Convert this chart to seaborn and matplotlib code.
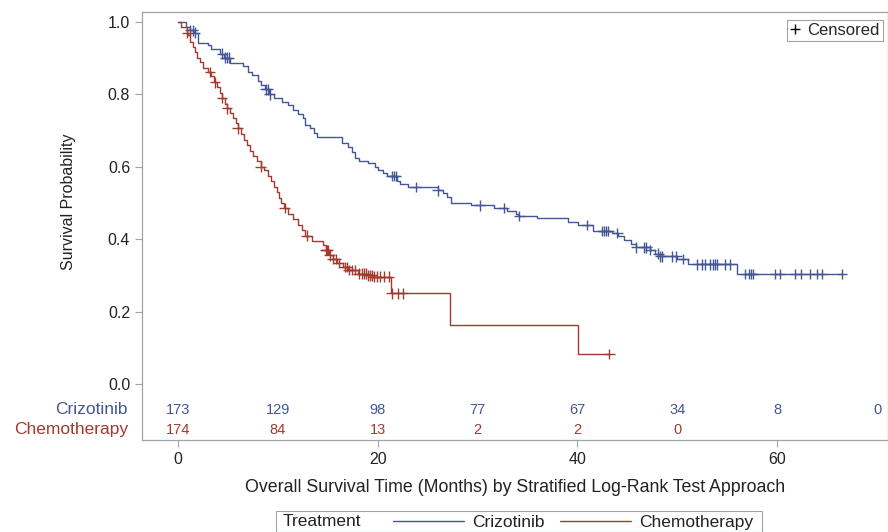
import matplotlib
matplotlib.use("Agg")
import matplotlib.pyplot as plt
from matplotlib.lines import Line2D
from matplotlib.patches import Rectangle
import seaborn as sns
import numpy as np
import pandas as pd

# Kaplan-Meier steps: month of event, survival after it
criz_time = [0, 0.8, 1.2, 1.6, 2.0, 3.0, 3.3, 4.2, 4.6, 5.2, 6.5, 7.0, 7.4, 8.0,
             8.3, 8.7, 9.1, 9.6, 10.4, 11.0, 11.5, 12.0, 12.5, 12.7, 13.2, 13.6,
             13.9, 16.4, 17.0, 17.4, 17.7, 18.1, 19.0, 19.7, 20.0, 20.5, 20.9,
             21.9, 22.2, 23.0, 26.0, 26.5, 26.9, 27.3, 29.3, 31.6, 32.9, 33.9,
             34.1, 36.0, 39.1, 40.1, 41.6, 43.5, 44.1, 44.7, 45.4, 45.9, 47.3,
             47.8, 48.3, 50.0, 51.1, 56.0]
criz_surv = [1.0, 0.986, 0.977, 0.971, 0.942, 0.936, 0.925, 0.913, 0.902, 0.887,
             0.878, 0.862, 0.853, 0.836, 0.826, 0.814, 0.80, 0.79, 0.78, 0.77,
             0.757, 0.745, 0.735, 0.715, 0.707, 0.693, 0.682, 0.666, 0.655, 0.64,
             0.624, 0.616, 0.61, 0.60, 0.59, 0.583, 0.575, 0.56, 0.552, 0.544,
             0.535, 0.528, 0.517, 0.50, 0.494, 0.486, 0.478, 0.47, 0.464, 0.459,
             0.447, 0.439, 0.423, 0.417, 0.409, 0.398, 0.387, 0.378, 0.37, 0.36,
             0.353, 0.345, 0.331, 0.304]
criz_end = 66.5
criz_cens = [1.2, 1.5, 1.7, 4.4, 4.7, 4.9, 5.1, 8.8, 9.0, 9.2, 21.4, 21.6, 21.8,
             23.8, 26.0, 30.2, 32.6, 34.2, 41.0, 42.5, 42.7, 42.9, 43.1, 44.0,
             45.9, 46.7, 46.9, 47.3, 48.1, 48.3, 48.5, 49.5, 49.9, 50.6, 52.0,
             52.5, 52.8, 53.3, 53.6, 53.8, 54.0, 54.8, 55.3, 56.8, 57.2, 57.4,
             57.6, 59.8, 60.3, 61.8, 62.4, 63.3, 64.0, 64.5, 66.5]

chemo_time = [0, 0.3, 0.9, 1.0, 1.2, 1.5, 1.7, 1.9, 2.2, 2.5, 3.0, 3.3, 3.6, 3.9,
              4.2, 4.4, 4.7, 4.9, 5.2, 5.5, 5.8, 6.0, 6.3, 6.6, 6.9, 7.2, 7.5,
              7.9, 8.3, 8.6, 9.0, 9.3, 9.6, 9.9, 10.1, 10.3, 10.6, 11.0, 11.5,
              12.0, 12.4, 12.7, 13.4, 14.5, 14.8, 15.1, 15.5, 15.9, 16.5, 17.0,
              18.0, 19.0, 19.5, 21.3, 27.2, 40.1]
chemo_surv = [1.0, 0.986, 0.97, 0.964, 0.945, 0.93, 0.917, 0.90, 0.89, 0.873,
              0.862, 0.85, 0.834, 0.82, 0.805, 0.79, 0.775, 0.762, 0.75, 0.735,
              0.72, 0.707, 0.69, 0.675, 0.66, 0.645, 0.63, 0.615, 0.60, 0.591,
              0.575, 0.56, 0.545, 0.53, 0.515, 0.50, 0.486, 0.47, 0.455, 0.44,
              0.425, 0.41, 0.395, 0.384, 0.37, 0.355, 0.345, 0.334, 0.323, 0.315,
              0.305, 0.30, 0.296, 0.25, 0.163, 0.083]
chemo_end = 43.2
chemo_cens = [0.9, 3.2, 3.7, 4.4, 4.9, 6.0, 8.3, 10.7, 12.9, 14.8, 14.9, 15.0,
              15.2, 15.5, 15.8, 16.1, 16.7, 16.9, 17.1, 17.4, 17.7, 18.1, 18.4,
              18.6, 18.8, 19.0, 19.2, 19.4, 19.6, 19.9, 20.2, 20.6, 21.1, 21.4,
              22.0, 22.5, 43.2]

risk_months = [0, 10, 20, 30, 40, 50, 60, 70]
criz_risk = [173, 129, 98, 77, 67, 34, 8, 0]
chemo_risk = [174, 84, 13, 2, 2, 0]

BLUE = '#445694'
RED = '#A23A2E'
GRAY = '#a0a4a8'
TXT = '#222222'

sns.set_style('white')
plt.rcParams['font.family'] = ['Liberation Sans', 'DejaVu Sans']


def level_at(times, surv, t):
    i = np.searchsorted(times, t, side='right') - 1
    return np.asarray(surv)[i]


steps = pd.concat([
    pd.DataFrame({'month': criz_time + [criz_end], 'surv': criz_surv + [criz_surv[-1]],
                  'arm': 'Crizotinib'}),
    pd.DataFrame({'month': chemo_time + [chemo_end], 'surv': chemo_surv + [chemo_surv[-1]],
                  'arm': 'Chemotherapy'}),
])
cens = pd.concat([
    pd.DataFrame({'month': criz_cens, 'surv': level_at(criz_time, criz_surv, criz_cens),
                  'arm': 'Crizotinib'}),
    pd.DataFrame({'month': chemo_cens, 'surv': level_at(chemo_time, chemo_surv, chemo_cens),
                  'arm': 'Chemotherapy'}),
])
pal = {'Crizotinib': BLUE, 'Chemotherapy': RED}

fig = plt.figure(figsize=(8.88, 5.32), dpi=100)
ax = fig.add_axes([142 / 888, 1 - 440 / 532, 1 - 142 / 888, (440 - 12) / 532])

sns.lineplot(data=steps, x='month', y='surv', hue='arm', palette=pal, estimator=None,
             sort=False, drawstyle='steps-post', lw=1.0, legend=False, ax=ax)
sns.scatterplot(data=cens, x='month', y='surv', hue='arm', palette=pal, marker='+',
                s=60, linewidth=1.0, legend=False, ax=ax)

ax.set_xlim(-3.6, 71.1)
ax.set_ylim(-0.155, 1.028)
ax.set_xticks([0, 20, 40, 60])
ax.set_yticks([0.0, 0.2, 0.4, 0.6, 0.8, 1.0])
ax.set_yticklabels(['0.0', '0.2', '0.4', '0.6', '0.8', '1.0'])
ax.tick_params(axis='both', direction='out', length=5, width=0.8, color=GRAY,
               labelsize=11.5, labelcolor=TXT, left=True, bottom=True)
for sp in ax.spines.values():
    sp.set_color(GRAY)
    sp.set_linewidth(0.9)

ax.set_xlabel('Overall Survival Time (Months) by Stratified Log-Rank Test Approach',
              fontsize=12.8, color=TXT, labelpad=9)
ax.set_ylabel('Survival Probability', fontsize=11.5, color=TXT)
ax.yaxis.set_label_coords(-0.088, 0.556)

# numbers at risk inside the frame
for m, n in zip(risk_months, criz_risk):
    ax.text(m, -0.072, str(n), color=BLUE, fontsize=10.5, ha='center', va='center')
for m, n in zip(risk_months, chemo_risk):
    ax.text(m, -0.127, str(n), color=RED, fontsize=10.5, ha='center', va='center')
ax.text(-5.0, -0.072, 'Crizotinib', color=BLUE, fontsize=12.5, ha='right', va='center',
        clip_on=False)
ax.text(-5.0, -0.127, 'Chemotherapy', color=RED, fontsize=12.5, ha='right', va='center',
        clip_on=False)

# censored legend
cens_handle = Line2D([], [], marker='+', ls='none', color='black', markersize=7)
leg = ax.legend([cens_handle], ['Censored'], loc='upper right', bbox_to_anchor=(0.9975, 0.99),
                fancybox=False, edgecolor=GRAY, fontsize=12, handlelength=0.6,
                handletextpad=0.4, borderpad=0.2, borderaxespad=0.2, framealpha=1)
leg.get_frame().set_linewidth(0.8)

# treatment legend at the bottom
fig.add_artist(Rectangle((276 / 888, 0), (762 - 276) / 888, 21 / 532,
                         transform=fig.transFigure, fill=False, edgecolor=GRAY, lw=0.8))
fig.text(283 / 888, 10 / 532, 'Treatment', fontsize=12.5, color=TXT, va='center')
lines = [Line2D([], [], color=BLUE, lw=1), Line2D([], [], color=RED, lw=1)]
fig.legend(lines, ['Crizotinib', 'Chemotherapy'], ncol=2, frameon=False,
           loc='center left', bbox_to_anchor=(393 / 888, 10 / 532), fontsize=12.5,
           handlelength=4.1, handletextpad=0.45, columnspacing=0.9, borderpad=0,
           borderaxespad=0, labelcolor=TXT)

fig.savefig('out.png', dpi=100)
